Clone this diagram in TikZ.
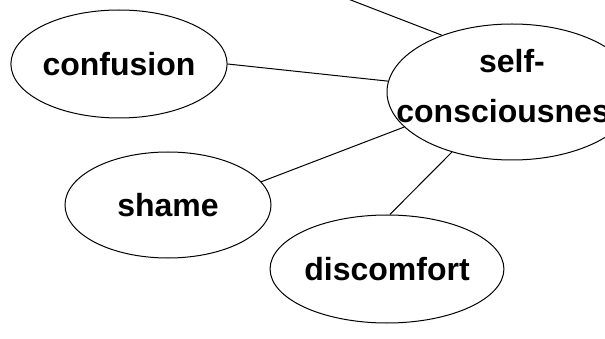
\documentclass[tikz,border=0pt]{standalone}
\usepackage{fontspec}
\setmainfont{Liberation Sans}
\usetikzlibrary{shapes.geometric}
\begin{document}
\begin{tikzpicture}[x=1pt,y=-1pt,
  bub/.style={ellipse,draw=black,line width=1pt,inner sep=0pt,font=\fontsize{32}{50}\selectfont\bfseries,align=center},
  txt/.style={font=\fontsize{32}{50}\selectfont\bfseries,align=center,inner sep=0pt},
  link/.style={draw=black,line width=1pt}]
\useasboundingbox (0,0) rectangle (605,339);
\clip (0,0) rectangle (605,339);
\node[bub,minimum width=208pt,minimum height=108pt] (conf) at (119,64) {confusion};
\node[bub,minimum width=206pt,minimum height=106pt] (shame) at (168,205) {shame};
\node[bub,minimum width=203pt,minimum height=108pt] (disc) at (387,269) {discomfort};
\node[bub,minimum width=250pt,minimum height=136pt,
  label={[txt,name=selftxt,yshift=6pt]center:self-\\consciousness}] (self) at (512,92) {};
\coordinate (top) at (330,-8);
\draw[link] (top) -- (self.141);
\draw[link] (conf.0) -- (self.175);
\draw[link] (shame.14) -- (self.198);
\draw[link] (disc.87) -- (self.225);
\end{tikzpicture}
\end{document}
